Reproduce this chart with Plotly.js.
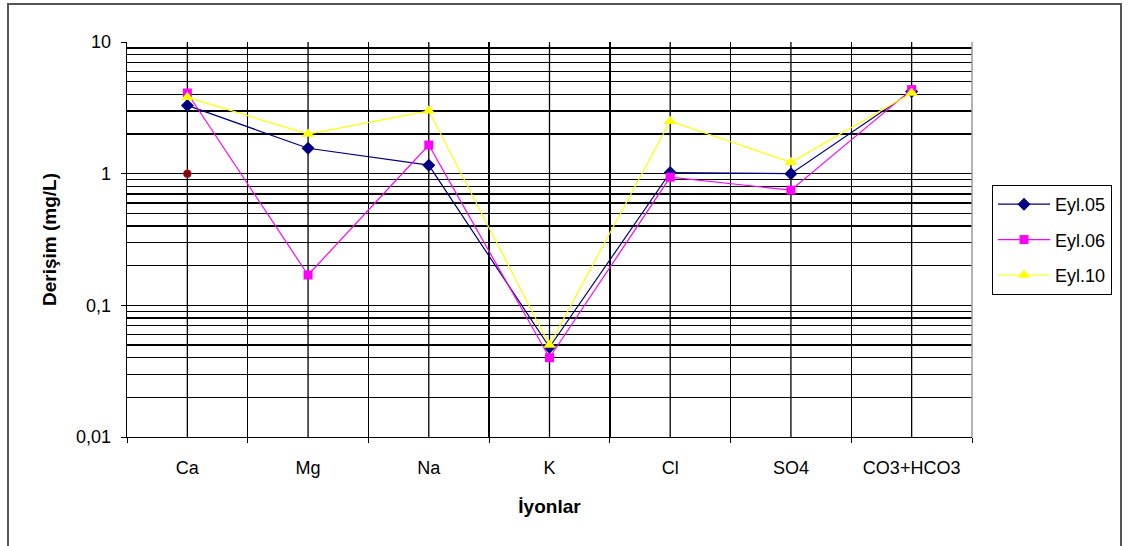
<!DOCTYPE html>
<html>
<head>
<meta charset="utf-8">
<script src="https://cdn.plot.ly/plotly-3.0.1.min.js"></script>
<style>
  html, body { margin: 0; padding: 0; background: #fff; }
  #wrap { position: relative; width: 1128px; height: 546px; overflow: hidden; }
  #chart { width: 1128px; height: 546px; }
  #frame { position: absolute; left: 7px; top: 3px; width: 1115px; height: 560px;
           border: 2px solid #555; pointer-events: none; box-sizing: border-box; }
</style>
</head>
<body>
<div id="wrap">
  <div id="chart"></div>
  <div id="frame"></div>
</div>
<script>
const categories = ['Ca', 'Mg', 'Na', 'K', 'Cl', 'SO4', 'CO3+HCO3'];
const eyl05 = [3.3, 1.56, 1.16, 0.048, 1.02, 1.0, 4.2];
const eyl06 = [4.1, 0.17, 1.65, 0.040, 0.94, 0.75, 4.35];
const eyl10 = [3.8, 2.0, 3.0, 0.05, 2.5, 1.22, 4.1];
const extraSeries = [1.0, null, null, null, null, null, null];
const seriesNames = ['Eyl.05', 'Eyl.06', 'Eyl.10'];
const yTickVals = [0.01, 0.1, 1, 10];
const yTickText = ['0,01', '0,1', '1', '10'];

const minorVals = [];
[0.01, 0.1, 1].forEach(d => { for (let k = 2; k <= 9; k++) minorVals.push(d * k); });

const font = 'Liberation Sans, Arial, sans-serif';

const traces = [
  { x: categories, y: eyl05, name: seriesNames[0], legendgroup: 'a', type: 'scatter', mode: 'lines+markers',
    line: { color: '#000080', width: 1.2 }, marker: { symbol: 'diamond', size: 10, color: '#000080' } },
  { x: categories, y: eyl06, name: seriesNames[1], legendgroup: 'b', type: 'scatter', mode: 'lines+markers',
    line: { color: '#FF00FF', width: 1.2 }, marker: { symbol: 'square', size: 9, color: '#FF00FF' } },
  { x: categories, y: eyl10, name: seriesNames[2], legendgroup: 'c', type: 'scatter', mode: 'lines+markers',
    line: { color: '#FFFF00', width: 1.2 }, marker: { symbol: 'triangle-up', size: 11, color: '#FFFF00' } },
  { x: categories, y: extraSeries, name: '', showlegend: false, type: 'scatter', mode: 'markers',
    marker: { symbol: 'circle', size: 8, color: '#800000', line: { color: '#CC3399', width: 0.5 } } }
];

const shapes = categories.map(c => ({
  type: 'line', xref: 'x', yref: 'paper', x0: c, x1: c, y0: 0, y1: 1,
  line: { color: '#000', width: 1.3 }, layer: 'below'
}));
shapes.push({ type: 'line', xref: 'paper', yref: 'paper', x0: 1, x1: 1, y0: 0, y1: 1,
  line: { color: '#999', width: 1.5 } });

const layout = {
  width: 1128, height: 546,
  margin: { l: 127, r: 156, t: 42, b: 109 },
  paper_bgcolor: '#fff', plot_bgcolor: '#fff',
  font: { family: font, color: '#000', size: 18 },
  showlegend: true,
  legend: {
    x: 1.0237, xanchor: 'left', y: 0.638, yanchor: 'top',
    bordercolor: '#000', borderwidth: 1, bgcolor: '#fff',
    font: { family: font, size: 18, color: '#000' },
    tracegroupgap: 9, traceorder: 'grouped', itemwidth: 52
  },
  xaxis: {
    type: 'category', categoryorder: 'array', categoryarray: categories,
    range: [-0.5, 6.5], tickson: 'boundaries', ticks: 'outside', ticklen: 5, tickcolor: '#000',
    showgrid: true, gridcolor: '#000', gridwidth: 1.3,
    showline: true, linecolor: '#000', linewidth: 1.3, zeroline: false,
    ticklabelstandoff: 14,
    tickfont: { family: font, size: 18, color: '#000' },
    title: { text: 'İyonlar', font: { family: font, size: 19, color: '#000', weight: 'bold' }, standoff: 22 }
  },
  yaxis: {
    type: 'log', range: [-2, 1],
    tickmode: 'array', tickvals: yTickVals, ticktext: yTickText,
    ticks: 'outside', ticklen: 5, tickcolor: '#000',
    showgrid: true, gridcolor: '#000', gridwidth: 1.3,
    minor: { tickmode: 'array', tickvals: minorVals, showgrid: true, gridcolor: '#000', gridwidth: 1.3, ticks: '' },
    showline: true, linecolor: '#000', linewidth: 1.3, zeroline: false,
    ticklabelstandoff: 6,
    tickfont: { family: font, size: 18, color: '#000' },
    title: { text: 'Derişim (mg/L)', font: { family: font, size: 19, color: '#000', weight: 'bold' }, standoff: 14 }
  },
  shapes: shapes
};

Plotly.newPlot('chart', traces, layout, { displayModeBar: false, staticPlot: true });
</script>
</body>
</html>
